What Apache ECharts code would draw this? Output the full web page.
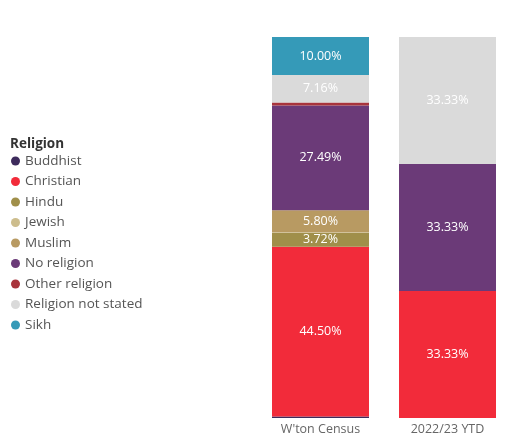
<!DOCTYPE html>
<html>
<head>
<meta charset="utf-8">
<script src="https://cdn.jsdelivr.net/npm/echarts@6/dist/echarts.min.js"></script>
<style>
  html, body { margin: 0; padding: 0; background: #ffffff; }
  #chart { width: 513px; height: 440px; }
</style>
</head>
<body>
<div id="chart"></div>
<script>
// Religion share (%) for each group
const categories = ["W'ton Census", "2022/23 YTD"];
const religions = ['Buddhist', 'Christian', 'Hindu', 'Jewish', 'Muslim', 'No religion', 'Other religion', 'Religion not stated', 'Sikh'];

const buddhist        = [0.42, 0];
const christian       = [44.50, 33.33];
const hindu           = [3.72, 0];
const jewish          = [0.10, 0];
const muslim          = [5.80, 0];
const noReligion      = [27.49, 33.33];
const otherReligion   = [0.81, 0];
const notStated       = [7.16, 33.33];
const sikh            = [10.00, 0];

const seriesValues = [buddhist, christian, hindu, jewish, muslim, noReligion, otherReligion, notStated, sikh];
const colors = ['#3D2B5C', '#F22B3A', '#A08F4A', '#CDBD8D', '#B89A62', '#6B3A78', '#A8343C', '#DADADA', '#359AB8'];

const fontFamily = "'Segoe UI', 'Open Sans', sans-serif";

const chart = echarts.init(document.getElementById('chart'), null, { renderer: 'canvas' });

chart.setOption({
  animation: false,
  color: colors,
  title: {
    text: 'Religion',
    left: 10,
    top: 136,
    padding: 0,
    textStyle: { fontSize: 13.5, fontWeight: 'bold', color: '#333333', fontFamily: fontFamily, lineHeight: 16 }
  },
  legend: {
    orient: 'vertical',
    left: 11,
    top: 154,
    padding: 0,
    icon: 'circle',
    itemWidth: 9,
    itemHeight: 9,
    itemGap: 6.5,
    data: religions,
    textStyle: { fontSize: 13.5, color: '#555555', fontFamily: fontFamily, lineHeight: 14, padding: [0, 0, 0, 0] },
    selectedMode: false
  },
  grid: { left: 257, right: 2, top: 37, bottom: 22 },
  xAxis: {
    type: 'category',
    data: categories,
    axisLine: { show: false },
    axisTick: { show: false },
    axisLabel: { color: '#666666', fontSize: 12.5, fontFamily: fontFamily, margin: 5 }
  },
  yAxis: {
    type: 'value',
    min: 0,
    max: 100,
    show: false,
    splitLine: { show: false }
  },
  series: religions.map((name, i) => ({
    name: name,
    type: 'bar',
    stack: 'total',
    barWidth: 97,
    data: seriesValues[i],
    itemStyle: { color: colors[i] },
    label: {
      show: true,
      position: 'inside',
      color: '#ffffff',
      fontSize: 12.5,
      fontFamily: fontFamily,
      formatter: p => (p.value >= 3 ? p.value.toFixed(2) + '%' : '')
    }
  }))
});
</script>
</body>
</html>
